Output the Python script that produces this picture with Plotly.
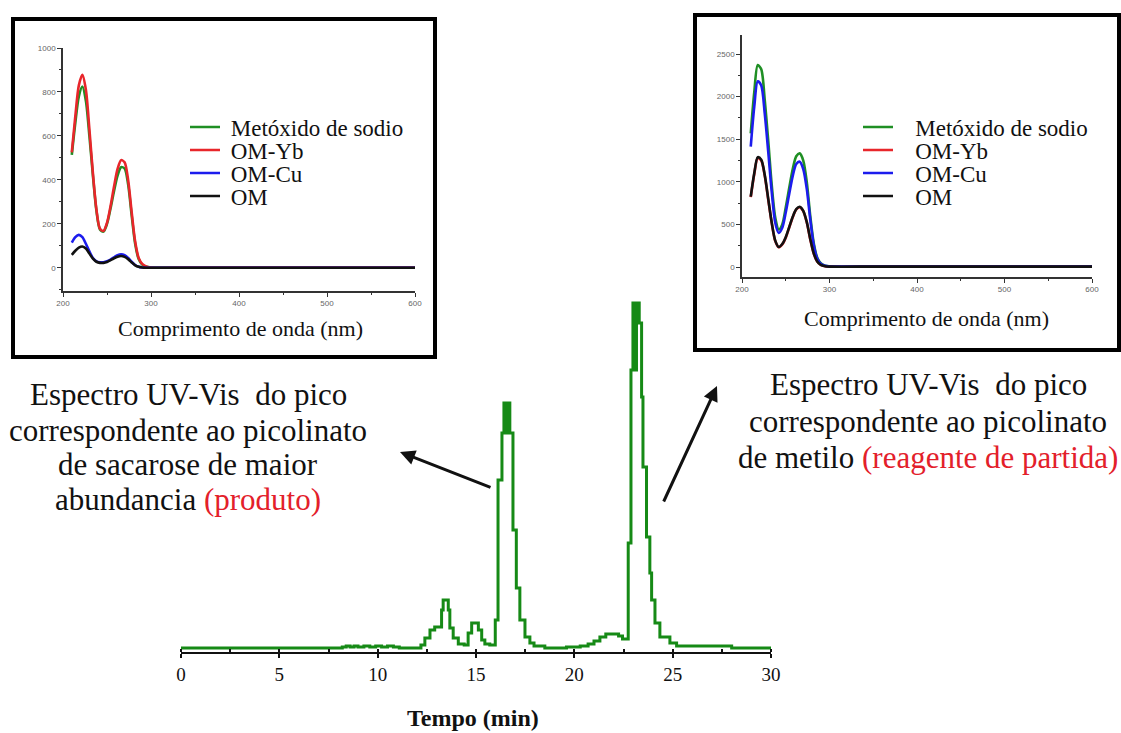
import plotly.graph_objects as go

W, H = 1121, 733


def fx(px):
    return px / W


def fy(py):
    return 1 - py / H


# ---------------- chromatogram (main) ----------------
time_min = [0, 8.2, 8.4, 8.6, 8.8, 9.0, 9.3, 9.6, 9.9, 10.2, 10.5, 10.8, 11.1,
            12.2, 12.4, 12.66, 12.9, 13.25, 13.33, 13.59, 13.67, 13.84, 14.1, 14.4,
            14.6, 14.78, 15.12, 15.29, 15.45, 15.7, 15.98, 16.12, 16.32, 16.42, 16.55,
            16.62, 16.72, 16.88, 17.05, 17.23, 17.49, 17.74, 17.95, 18.5, 19.6, 20.3,
            20.7, 21.0, 21.3, 21.6, 22.25, 22.45, 22.74, 22.88, 22.98, 23.1, 23.16,
            23.3, 23.42, 23.49, 23.67, 23.84, 23.93, 24.1, 24.35, 24.86, 25.2, 28.0, 30.0]
absorbance = [0, 1, 2, 1, 2, 1, 2, 1, 2, 1, 2, 1, 0,
              3, 10, 18, 21, 38, 48, 38, 20, 10, 4, 3,
              15, 25, 18, 8, 4, 3, 28, 168, 215, 245, 215,
              245, 215, 118, 60, 28, 11, 5, 2, 0, 1, 2,
              4, 7, 11, 14, 12, 9, 105, 278, 345, 278, 345,
              325, 251, 181, 111, 75, 48, 25, 11, 5, 2, 0, 0]
time_ticks = [0, 5, 10, 15, 20, 25, 30]

# ---------------- UV-Vis spectra ----------------
wavelength = [210, 214, 218, 222, 226, 230, 234, 238, 242, 246, 250, 254, 258, 262,
              266, 270, 274, 278, 282, 286, 290, 295, 300, 350, 400, 450, 500, 550, 600]

# left inset: sucrose picolinate (produto)
prod_metoxido = [514, 660, 780, 825, 760, 600, 420, 260, 175, 165, 200, 270, 350, 420,
                 458, 452, 380, 240, 110, 40, 15, 5, 2, 2, 2, 2, 2, 2, 2]
prod_om_yb = [525, 690, 830, 878, 810, 630, 430, 265, 178, 168, 205, 280, 370, 450,
              490, 480, 400, 255, 120, 45, 18, 6, 2, 2, 2, 2, 2, 2, 2]
prod_om_cu = [115, 140, 150, 140, 110, 75, 45, 30, 26, 26, 30, 38, 48, 58,
              62, 58, 45, 28, 13, 5, 2, 1, 1, 1, 1, 1, 1, 1, 1]
prod_om = [59, 78, 92, 97, 88, 65, 42, 28, 23, 23, 27, 35, 44, 51,
           54, 50, 40, 25, 12, 5, 2, 1, 1, 1, 1, 1, 1, 1, 1]

# right inset: methyl picolinate (reagente de partida)
reag_metoxido = [1569, 2050, 2370, 2320, 1960, 1480, 960, 580, 440, 500, 700, 930, 1150, 1300,
                 1334, 1250, 1000, 600, 280, 110, 45, 15, 8, 6, 6, 6, 6, 6, 6]
reag_om_yb = [820, 1090, 1280, 1250, 1070, 790, 515, 305, 232, 266, 345, 465, 585, 675,
              702, 655, 525, 325, 158, 64, 25, 10, 5, 5, 5, 5, 5, 5, 5]
reag_om_cu = [1412, 1880, 2180, 2130, 1800, 1350, 880, 520, 400, 460, 640, 860, 1070, 1210,
              1236, 1150, 920, 560, 260, 100, 40, 14, 7, 6, 6, 6, 6, 6, 6]
reag_om = [826, 1100, 1290, 1260, 1080, 800, 520, 310, 235, 270, 350, 470, 590, 680,
           708, 660, 530, 330, 160, 65, 25, 10, 5, 5, 5, 5, 5, 5, 5]

series_names = ["Metóxido de sodio", "OM-Yb", "OM-Cu", "OM"]
series_colors = ["#1f8f24", "#e8262b", "#1c1ced", "#111111"]

prod_ticks = [0, 200, 400, 600, 800, 1000]
reag_ticks = [0, 500, 1000, 1500, 2000, 2500]
wl_ticks = [200, 300, 400, 500, 600]

serif = "Liberation Serif, Times New Roman, serif"

fig = go.Figure()

fig.add_trace(go.Scatter(
    x=time_min, y=absorbance, mode="lines", line=dict(color="#168a16", width=3, shape="hv"),
    showlegend=False, xaxis="x", yaxis="y", hoverinfo="skip"))

prod = [prod_metoxido, prod_om_yb, prod_om_cu, prod_om]
reag = [reag_metoxido, reag_om_yb, reag_om_cu, reag_om]
for i, (name, col, vals) in enumerate(zip(series_names, series_colors, prod)):
    fig.add_trace(go.Scatter(
        x=wavelength, y=vals, mode="lines", name="\u00a0" + name,
        line=dict(color=col, width=2.6, shape="spline", smoothing=0.8),
        xaxis="x2", yaxis="y2", legend="legend" if i == 0 else f"legend{i + 1}"))
for i, (name, col, vals) in enumerate(zip(series_names, series_colors, reag)):
    fig.add_trace(go.Scatter(
        x=wavelength, y=vals, mode="lines", name="\u00a0\u00a0\u00a0" + name,
        line=dict(color=col, width=2.6, shape="spline", smoothing=0.8),
        xaxis="x3", yaxis="y3", legend=f"legend{i + 5}"))

tickfont_small = dict(family="Arial, sans-serif", size=8, color="#666666")
inset_axis = dict(showline=True, linecolor="#333333", linewidth=1.5, ticks="outside",
                  ticklen=4, tickwidth=1.2, tickcolor="#333333", showgrid=False,
                  zeroline=False, tickfont=tickfont_small)

layout = dict(
    width=W, height=H, autosize=False,
    margin=dict(l=0, r=0, t=0, b=0, pad=0, autoexpand=False),
    paper_bgcolor="white", plot_bgcolor="white",
    xaxis=dict(domain=[fx(181), fx(771)], range=[0, 30], anchor="y",
               tickvals=time_ticks, ticks="outside", ticklen=4, tickwidth=2,
               tickcolor="#111111", showline=True, linecolor="#111111", linewidth=2,
               showgrid=False, zeroline=False,
               minor=dict(dtick=2.5, ticks="inside", ticklen=3, tickwidth=1.5,
                          tickcolor="#111111"),
               tickfont=dict(family=serif, size=19, color="#111111")),
    yaxis=dict(domain=[fy(652), fy(288)], range=[-4, 360], visible=False, anchor="x"),
    xaxis2=dict(domain=[fx(63), fx(415)], range=[200, 600], anchor="y2",
                tickvals=wl_ticks, minor=dict(dtick=50, ticks="outside", ticklen=2),
                **inset_axis),
    yaxis2=dict(domain=[fy(291), fy(48)], range=[-105, 1000], anchor="x2",
                tickvals=prod_ticks, minor=dict(dtick=100, ticks="outside", ticklen=2),
                **inset_axis),
    xaxis3=dict(domain=[fx(742), fx(1092)], range=[200, 600], anchor="y3",
                tickvals=wl_ticks, minor=dict(dtick=50, ticks="outside", ticklen=2),
                **inset_axis),
    yaxis3=dict(domain=[fy(277), fy(35)], range=[-117, 2723], anchor="x3",
                tickvals=reag_ticks, minor=dict(dtick=250, ticks="outside", ticklen=2),
                **inset_axis),
)

legend_font = dict(family=serif, size=23, color="#111111")
row_y = [127, 150, 173, 196]
for i in range(8):
    key = "legend" if i == 0 else f"legend{i + 1}"
    lx = 185 if i < 4 else 858
    layout[key] = dict(x=fx(lx), y=fy(row_y[i % 4]), xanchor="left", yanchor="middle",
                       bgcolor="rgba(0,0,0,0)", borderwidth=0, font=legend_font,
                       itemclick=False, itemdoubleclick=False)

fig.update_layout(**layout)

# inset frames
fig.add_shape(type="rect", xref="paper", yref="paper", x0=fx(13), x1=fx(435),
              y0=fy(357), y1=fy(19), line=dict(color="black", width=4), layer="below")
fig.add_shape(type="rect", xref="paper", yref="paper", x0=fx(695), x1=fx(1119),
              y0=fy(350), y1=fy(15), line=dict(color="black", width=4), layer="below")

# inset x titles
title_font = dict(family=serif, size=22, color="#111")
fig.add_annotation(x=fx(240), y=fy(328), xref="paper", yref="paper", showarrow=False,
                   xanchor="center", yanchor="middle",
                   text="Comprimento de onda (nm)", font=title_font)
fig.add_annotation(x=fx(926), y=fy(318), xref="paper", yref="paper", showarrow=False,
                   xanchor="center", yanchor="middle",
                   text="Comprimento de onda (nm)", font=title_font)

# main axis title
fig.add_annotation(x=fx(473), y=fy(718), xref="paper", yref="paper", showarrow=False,
                   xanchor="center", yanchor="middle",
                   text="<b>Tempo (min)</b>", font=dict(family=serif, size=24, color="#111"))

red = "#e3202a"
big = dict(family=serif, size=31, color="#111111")
left_lines = ["Espectro UV-Vis\u00a0 do pico", "correspondente ao picolinato",
              "de sacarose de maior",
              f"abundancia <span style='color:{red}'>(produto)</span>"]
left_y = [394, 430, 464, 499]
for t, yy in zip(left_lines, left_y):
    fig.add_annotation(x=fx(188), y=fy(yy), xref="paper", yref="paper", showarrow=False,
                       text=t, font=big, xanchor="center", yanchor="middle")
right_lines = ["Espectro UV-Vis\u00a0 do pico", "correspondente ao picolinato",
               f"de metilo <span style='color:{red}'>(reagente de partida)</span>"]
right_y = [384, 421, 457]
for t, yy in zip(right_lines, right_y):
    fig.add_annotation(x=fx(928), y=fy(yy), xref="paper", yref="paper", showarrow=False,
                       text=t, font=big, xanchor="center", yanchor="middle")

# arrows
fig.add_annotation(x=fx(400), y=fy(452), xref="paper", yref="paper", text="",
                   showarrow=True, ax=92, ay=36, arrowhead=2, arrowsize=1,
                   arrowwidth=3, arrowcolor="#111111")
fig.add_annotation(x=fx(717), y=fy(386), xref="paper", yref="paper", text="",
                   showarrow=True, ax=-54, ay=117, arrowhead=2, arrowsize=1,
                   arrowwidth=3, arrowcolor="#111111")

fig.write_html("out.html", config={"responsive": False})
